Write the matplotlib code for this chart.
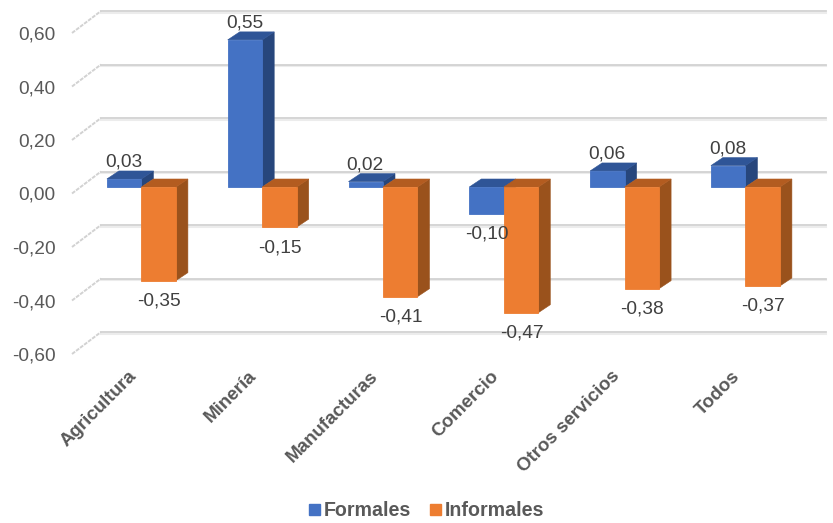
import matplotlib.pyplot as plt
from matplotlib.patches import Polygon
from matplotlib.transforms import Affine2D, ScaledTranslation

plt.rcParams['font.family'] = ['Liberation Sans', 'DejaVu Sans']

categorias = ['Agricultura', 'Minería', 'Manufacturas', 'Comercio', 'Otros servicios', 'Todos']
formales = [0.03, 0.55, 0.02, -0.10, 0.06, 0.08]
informales = [-0.35, -0.15, -0.41, -0.47, -0.38, -0.37]
y_ticks = [-0.6, -0.4, -0.2, 0.0, 0.2, 0.4, 0.6]

W, H = 833, 523
fig = plt.figure(figsize=(W / 100, H / 100), dpi=100)
ax = fig.add_axes([72 / W, (H - 354) / H, 724.8 / W, 321 / H])
ax.set_xlim(-0.5, 5.5)
ax.set_ylim(-0.6, 0.6)

# planos del falso 3D, desplazados en pixeles
plano_barras = ax.transData + Affine2D().translate(9, 6.5)
plano_fondo = ax.transData + Affine2D().translate(29, 22)

GRID = '#d2d2d2'
for y in y_ticks:
    ax.plot([-0.5, 5.5], [y, y], color='#ececec', lw=1.5, transform=plano_fondo + Affine2D().translate(0, -1.5),
            clip_on=False, zorder=1)
    ax.plot([-0.5, 5.5], [y, y], color=GRID, lw=1.3, transform=plano_fondo, clip_on=False, zorder=1.1)
    # linea diagonal de la pared lateral
    x0, y0 = ax.transData.transform((-0.5, y))
    ax.plot([x0, x0 + 29], [y0, y0 + 22], color=GRID, lw=1.4, ls=(0, (2, 0.6)), transform=None,
            clip_on=False, zorder=1)

ANCHO = 0.2855
DX, DY = 12, 8
z = 2


def barra(x, valor, frente, lateral, tapa, zorder):
    rect = ax.bar(x, valor, ANCHO, align='edge', color=frente, edgecolor=frente, lw=0.6,
                  transform=plano_barras, zorder=zorder + 0.2, clip_on=False)
    x0, y0 = plano_barras.transform((x, min(valor, 0)))
    x1, y1 = plano_barras.transform((x + ANCHO, max(valor, 0)))
    cara_lateral = Polygon([(x1, y0), (x1 + DX, y0 + DY), (x1 + DX, y1 + DY), (x1, y1)], closed=True,
                           facecolor=lateral, edgecolor=lateral, lw=0.4, transform=None, zorder=zorder)
    cara_tapa = Polygon([(x0, y1), (x0 + DX, y1 + DY), (x1 + DX, y1 + DY), (x1, y1)], closed=True,
                        facecolor=tapa, edgecolor=tapa, lw=0.4, transform=None, zorder=zorder + 0.1)
    cara_lateral.set_clip_on(False)
    cara_tapa.set_clip_on(False)
    ax.add_artist(cara_lateral)
    ax.add_artist(cara_tapa)
    return rect


def etiqueta(x, valor):
    texto = f'{valor:.2f}'.replace('.', ',')
    # sobre la barra si es positiva, debajo si es negativa
    dy = DY + 9 if valor >= 0 else -20.5
    dx = -0.5 if valor >= 0 else 0.5
    ax.annotate(texto, (x + ANCHO / 2, valor), xycoords=plano_barras, xytext=(dx, dy), textcoords='offset pixels',
                ha='center', va='center', fontsize=13.8, color='#404040', zorder=20, annotation_clip=False)


for i in range(len(categorias)):
    barra(i - ANCHO, formales[i], '#4472C4', '#27467C', '#2F5597', z)
    barra(i, informales[i], '#ED7D31', '#9A521C', '#B35C20', z + 1)
    z += 2

for i in range(len(categorias)):
    etiqueta(i - ANCHO, formales[i])
    etiqueta(i, informales[i])

ax.set_yticks(y_ticks)
ax.set_yticklabels([f'{v:.2f}'.replace('.', ',') for v in y_ticks], fontsize=13.8, color='#595959')
ax.tick_params(axis='y', length=0, pad=12)
ax.set_xticks(range(len(categorias)))
ax.set_xticklabels(categorias, rotation=45, ha='right', rotation_mode='anchor', fontsize=13.5,
                   fontweight='bold', color='#595959')
ax.tick_params(axis='x', length=0, pad=10)
# desplaza las categorias hacia la izquierda
for t in ax.get_xticklabels():
    t.set_transform(t.get_transform() + ScaledTranslation(-3.5 / 72, 0, fig.dpi_scale_trans))
for s in ax.spines.values():
    s.set_visible(False)
ax.patch.set_alpha(0)

# leyenda inferior
h1 = plt.Rectangle((0, 0), 1, 1, color='#4472C4')
h2 = plt.Rectangle((0, 0), 1, 1, color='#ED7D31')
leg = fig.legend([h1, h2], ['Formales', 'Informales'], loc='center', bbox_to_anchor=(426.5 / W, (H - 511) / H),
                 ncol=2, frameon=False, handlelength=0.55, handleheight=0.55, handletextpad=0.2,
                 columnspacing=0.95, prop={'size': 14.1, 'weight': 'bold'})
for t in leg.get_texts():
    t.set_color('#595959')

fig.savefig('out.png', dpi=100)
